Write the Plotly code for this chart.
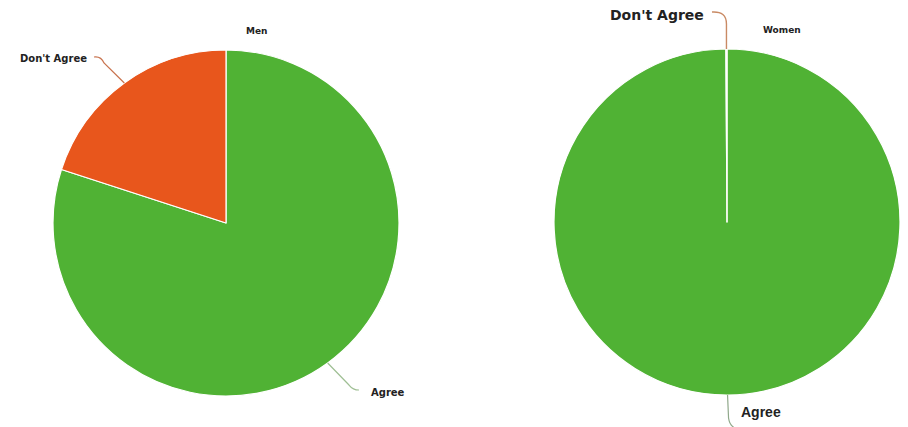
import numpy as np
import plotly.graph_objects as go

W, H = 908, 427

# ---- data ----
labels = ["Agree", "Don't Agree"]
men_values = [80, 20]
women_values = [99.9, 0.1]
titles = ["Men", "Women"]

GREEN = "#50b234"
ORANGE = "#e8561c"
colors = [GREEN, ORANGE]

# ---- geometry (pixels) ----
R = 173
centers = [(226, 223), (727, 222)]


def px2paper(x, y):
    return x / W, 1 - y / H


def domain(cx, cy):
    x0, y1 = px2paper(cx - R, cy - R)
    x1, y0 = px2paper(cx + R, cy + R)
    return dict(x=[x0, x1], y=[y0, y1])


def mid_point(values, idx, cx, cy):
    tot = sum(values)
    start = sum(values[:idx]) / tot
    frac = (start + values[idx] / tot / 2) * 2 * np.pi  # clockwise from top
    return cx + R * np.sin(frac), cy - R * np.cos(frac)


fig = go.Figure()
for vals, (cx, cy), name in zip([men_values, women_values], centers, titles):
    fig.add_trace(go.Pie(
        labels=labels, values=vals, sort=False, direction="clockwise",
        rotation=0, marker=dict(colors=colors, line=dict(color="white", width=1.2)),
        textinfo="none", hoverinfo="label+value", showlegend=False,
        domain=domain(cx, cy), name=name,
    ))


def path(points_cmd):
    s = ""
    for cmd, pts in points_cmd:
        s += cmd + " " + " ".join(f"{px2paper(x, y)[0]:.5f},{px2paper(x, y)[1]:.5f}" for x, y in pts) + " "
    return s.strip()


shapes = []
annotations = []
TXT = "#222222"
FONT = "DejaVu Sans"


def label(text, x, y, size, anchor, family=FONT):
    px, py = px2paper(x, y)
    annotations.append(dict(x=px, y=py, xref="paper", yref="paper", text=f"<b>{text}</b>",
                            showarrow=False, xanchor=anchor, yanchor="middle",
                            font=dict(family=family, size=size, color=TXT)))


# Men: Don't Agree
mx, my = mid_point(men_values, 1, *centers[0])
shapes.append(dict(type="path", xref="paper", yref="paper",
                   path=path([("M", [(94, 57)]), ("Q", [(101, 56), (104, 63)]), ("L", [(mx, my)])]),
                   line=dict(color="#c8734e", width=1.2)))
label("Don't Agree", 89, 58, 10, "right")

# Men: Agree
ax, ay = mid_point(men_values, 0, *centers[0])
shapes.append(dict(type="path", xref="paper", yref="paper",
                   path=path([("M", [(ax, ay)]), ("L", [(349, 385)]), ("Q", [(353, 390), (359, 390)])]),
                   line=dict(color="#9fbf94", width=1.2)))
label("Agree", 369, 392, 10, "left")

# Women: Don't Agree
wx, wy = mid_point(women_values, 1, *centers[1])
shapes.append(dict(type="path", xref="paper", yref="paper",
                   path=path([("M", [(712, 12)]), ("Q", [(wx, 11), (wx, 24)]), ("L", [(wx, wy)])]),
                   line=dict(color="#c98a64", width=1.4)))
label("Don't Agree", 706, 15, 14, "right")

# Women: Agree
bx, by = mid_point(women_values, 0, *centers[1])
shapes.append(dict(type="path", xref="paper", yref="paper",
                   path=path([("M", [(bx, by)]), ("L", [(bx + 1, 418)]), ("Q", [(bx + 2, 425), (bx + 6, 427)])]),
                   line=dict(color="#8fa88a", width=1.2)))
label("Agree", 739, 412, 14, "left", family="Liberation Sans")

# Titles
label(titles[0], 256, 31, 9, "center")
label(titles[1], 782, 30, 9, "center")

fig.update_layout(
    width=W, height=H, margin=dict(l=0, r=0, t=0, b=0),
    paper_bgcolor="white", plot_bgcolor="white",
    shapes=shapes, annotations=annotations,
)

fig.write_html("out.html", config={"displayModeBar": False},
               post_script="document.body.style.margin='0px';document.body.style.overflow='hidden';")
